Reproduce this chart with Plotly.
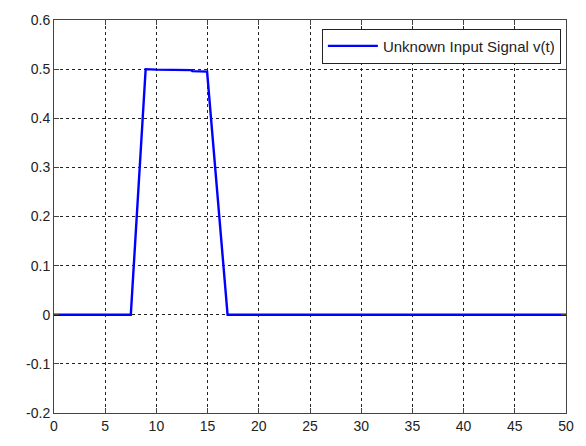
import plotly.graph_objects as go

t = [0, 7.5, 8.95, 10.0, 13.4, 13.5, 14.95, 16.95, 50]
v = [0, 0, 0.5, 0.499, 0.498, 0.496, 0.495, 0, 0]
x_ticks = [0, 5, 10, 15, 20, 25, 30, 35, 40, 45, 50]
y_ticks = [-0.2, -0.1, 0, 0.1, 0.2, 0.3, 0.4, 0.5, 0.6]
y_labels = ["-0.2", "-0.1", "0", "0.1", "0.2", "0.3", "0.4", "0.5", "0.6"]

fig = go.Figure()
fig.add_trace(go.Scatter(x=t, y=v, mode="lines", name="Unknown Input Signal v(t)",
                         line=dict(color="#0000ff", width=2.4)))

axis_common = dict(showline=True, linecolor="#444", linewidth=1, mirror="ticks",
                   ticks="inside", ticklen=5, tickcolor="#444",
                   showgrid=True, gridcolor="#222", griddash="3px,3px", gridwidth=1,
                   zeroline=False, tickfont=dict(family="Liberation Sans, Arial", size=14, color="#222"))

fig.update_xaxes(range=[0, 50], tickvals=x_ticks, **axis_common)
fig.update_yaxes(range=[-0.2, 0.6], tickvals=y_ticks, ticktext=y_labels, **axis_common)

fig.update_layout(
    width=586, height=446,
    margin=dict(l=54, r=18, t=15, b=25),
    paper_bgcolor="white", plot_bgcolor="white",
    showlegend=True,
    legend=dict(x=0.99, y=0.978, xanchor="right", yanchor="top",
                bgcolor="white", bordercolor="#222", borderwidth=1,
                font=dict(family="Liberation Sans, Arial", size=15, color="#222"),
                itemwidth=50),
)

fig.write_html("out.html")
